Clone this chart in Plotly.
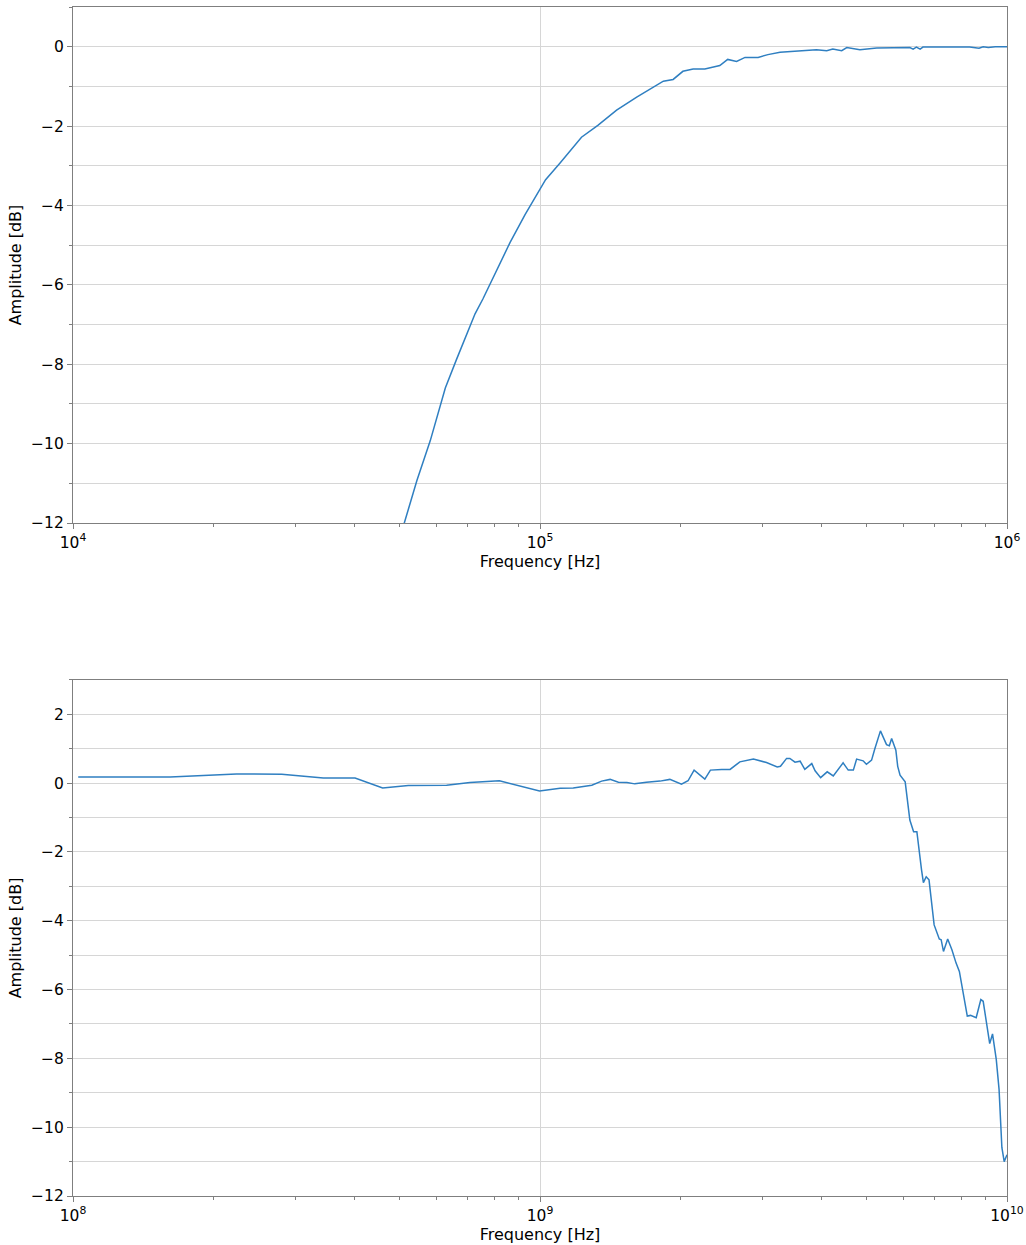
import plotly.graph_objects as go
from plotly.subplots import make_subplots

# ---- Top panel data (frequency in Hz, amplitude in dB) ----
freq_low = [47900, 51400, 54500, 58200, 62700, 66200, 72600, 75500, 86300, 92900,
            102800, 110400, 122700, 133000, 145900, 161100, 174600, 183700, 192800, 202300,
            212800, 225400, 242700, 252300, 263600, 274800, 293100, 307600, 326600, 361400,
            390800, 411100, 423600, 442600, 453900, 484200, 526000, 619400, 629500, 639700,
            651600, 660700, 755100, 831800, 871000, 889200, 912000, 944100, 1000000]
amp_low = [-13.15, -11.92, -10.93, -9.93, -8.6, -7.89, -6.73, -6.35, -4.93, -4.23,
           -3.35, -2.93, -2.28, -1.98, -1.6, -1.27, -1.03, -0.87, -0.825, -0.62,
           -0.56, -0.56, -0.475, -0.32, -0.37, -0.27, -0.27, -0.2, -0.14, -0.1,
           -0.075, -0.1, -0.06, -0.1, -0.02, -0.075, -0.03, -0.02, -0.06, -0.01,
           -0.06, -0.01, -0.02, -0.01, -0.04, 0.0, -0.02, 0.0, 0.0]

# ---- Bottom panel data ----
freq_high = [1.026e8, 1.614e8, 2.239e8, 2.799e8, 3.436e8, 4.018e8, 4.603e8, 5.224e8, 6.310e8, 7.079e8,
             8.185e8, 9.977e8, 1.104e9, 1.178e9, 1.291e9, 1.355e9, 1.413e9, 1.472e9, 1.535e9, 1.596e9,
             1.690e9, 1.807e9, 1.897e9, 2.009e9, 2.075e9, 2.138e9, 2.254e9, 2.317e9, 2.449e9, 2.553e9,
             2.679e9, 2.864e9, 3.055e9, 3.221e9, 3.273e9, 3.373e9, 3.428e9, 3.516e9, 3.606e9, 3.690e9,
             3.819e9, 3.882e9, 3.990e9, 4.121e9, 4.246e9, 4.457e9, 4.571e9, 4.688e9, 4.764e9, 4.920e9,
             5.000e9, 5.129e9, 5.212e9, 5.358e9, 5.521e9, 5.598e9, 5.662e9, 5.781e9, 5.834e9, 5.902e9,
             6.053e9, 6.194e9, 6.310e9, 6.412e9, 6.561e9, 6.622e9, 6.714e9, 6.808e9, 6.982e9, 7.161e9,
             7.228e9, 7.311e9, 7.464e9, 7.621e9, 7.780e9, 7.907e9, 8.222e9, 8.356e9, 8.590e9, 8.790e9,
             8.892e9, 9.183e9, 9.311e9, 9.484e9, 9.616e9, 9.750e9, 9.863e9, 1.0e10]
amp_high = [0.18, 0.18, 0.27, 0.26, 0.15, 0.15, -0.14, -0.07, -0.06, 0.02,
            0.07, -0.23, -0.15, -0.14, -0.06, 0.06, 0.11, 0.03, 0.02, -0.02,
            0.03, 0.06, 0.11, -0.03, 0.07, 0.38, 0.12, 0.38, 0.4, 0.4,
            0.62, 0.7, 0.6, 0.47, 0.49, 0.72, 0.72, 0.61, 0.64, 0.4,
            0.57, 0.36, 0.16, 0.33, 0.21, 0.59, 0.38, 0.38, 0.7, 0.65,
            0.55, 0.67, 1.0, 1.52, 1.12, 1.09, 1.3, 0.96, 0.49, 0.23,
            0.04, -1.07, -1.41, -1.41, -2.52, -2.89, -2.72, -2.81, -4.12, -4.53,
            -4.55, -4.89, -4.53, -4.84, -5.23, -5.47, -6.77, -6.75, -6.82, -6.29,
            -6.34, -7.57, -7.29, -8.03, -8.9, -10.59, -11.0, -10.8]

x_ticks_low = [1e4, 1e5, 1e6]
x_labels_low = ["10<sup>4</sup>", "10<sup>5</sup>", "10<sup>6</sup>"]
x_ticks_high = [1e8, 1e9, 1e10]
x_labels_high = ["10<sup>8</sup>", "10<sup>9</sup>", "10<sup>10</sup>"]

LINE = "#2f7fc1"
FRAME = "#7f7f7f"
GRID = "#d6d6d6"
FONT = "DejaVu Sans"

fig = make_subplots(rows=2, cols=1, vertical_spacing=0.132)
fig.add_trace(go.Scatter(x=freq_low, y=amp_low, mode="lines",
                         line=dict(color=LINE, width=1.5), showlegend=False), row=1, col=1)
fig.add_trace(go.Scatter(x=freq_high, y=amp_high, mode="lines",
                         line=dict(color=LINE, width=1.5), showlegend=False), row=2, col=1)

common_x = dict(type="log", showline=True, mirror=True, linecolor=FRAME, linewidth=1.2,
                ticks="outside", ticklen=5, tickcolor=FRAME, showgrid=True, gridcolor=GRID,
                gridwidth=1, zeroline=False, automargin=False,
                tickfont=dict(family=FONT, size=15.5, color="black"),
                minor=dict(dtick="D1", ticks="outside", ticklen=3, tickcolor=FRAME, showgrid=False),
                title=dict(text="Frequency [Hz]", font=dict(family=FONT, size=16, color="black"),
                           standoff=3))
common_y = dict(showline=True, mirror=True, linecolor=FRAME, linewidth=1.2,
                ticks="outside", ticklen=5, tickcolor=FRAME, showgrid=True, gridcolor=GRID,
                gridwidth=1, zeroline=False, dtick=2, tickformat="d", automargin=False,
                tickfont=dict(family=FONT, size=15.5, color="black"),
                minor=dict(dtick=1, ticks="outside", ticklen=3, tickcolor=FRAME,
                           showgrid=True, gridcolor=GRID, gridwidth=1),
                title=dict(text="Amplitude [dB]", font=dict(family=FONT, size=16, color="black"),
                           standoff=5))

fig.update_xaxes(**common_x, range=[4, 6], tickvals=x_ticks_low, ticktext=x_labels_low, row=1, col=1)
fig.update_xaxes(**common_x, range=[8, 10], tickvals=x_ticks_high, ticktext=x_labels_high, row=2, col=1)
fig.update_yaxes(**common_y, range=[-12, 1], tick0=0, row=1, col=1)
fig.update_yaxes(**common_y, range=[-12, 3], tick0=0, row=2, col=1)

fig.update_layout(width=1026, height=1245,
                  margin=dict(l=73, r=19, t=7, b=49, autoexpand=False),
                  plot_bgcolor="white", paper_bgcolor="white",
                  font=dict(family=FONT, size=15, color="black"))
fig.write_html("out.html", config={"displayModeBar": False},
               post_script="document.body.style.margin='0';")
